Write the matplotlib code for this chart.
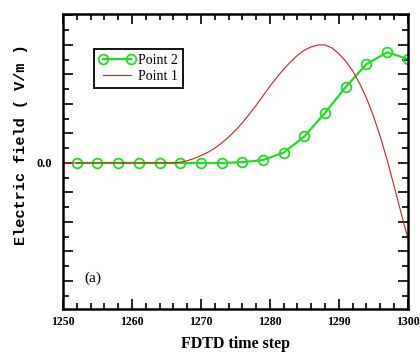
import matplotlib
matplotlib.use("Agg")
import matplotlib.pyplot as plt
from matplotlib.ticker import MultipleLocator, FixedLocator, FuncFormatter

# Point 1 (red): value at every time step 1250..1300
p1_steps = list(range(1250, 1301))
p1_vals = [0.0] * 17 + [
    0.005, 0.015, 0.03, 0.05, 0.072, 0.10, 0.135, 0.175, 0.22, 0.272,
    0.33, 0.39, 0.455, 0.52, 0.58, 0.635, 0.685, 0.73, 0.765, 0.787,
    0.80, 0.80, 0.78, 0.74, 0.69, 0.625, 0.54, 0.44, 0.32, 0.18,
    0.02, -0.155, -0.335, -0.51]

# Point 2 (green): values at the marked steps
p2_steps = list(range(1252, 1301, 3))
p2_vals = [0.0, 0.0, 0.0, 0.0, 0.0, 0.0, 0.0, 0.0, 0.005, 0.02,
           0.07, 0.18, 0.34, 0.515, 0.67, 0.75, 0.705]

x_ticks = [1250, 1260, 1270, 1280, 1290, 1300]
y_labelled = {0.0: "0.0"}

fig = plt.figure(figsize=(4.2, 3.55), dpi=100)
ax = fig.add_axes([0.15, 0.1296, 0.821, 0.8310])

ax.plot(p2_steps, p2_vals, color="#22dd22", lw=1.6, marker="o", ms=7,
        mfc="none", mec="#22dd22", mew=1.3, label="Point 2")
ax.plot(p1_steps, p1_vals, color="#cc2222", lw=0.8, label="Point 1")

ax.set_xlim(1250, 1300)
ax.set_ylim(-0.99, 1.01)

ax.xaxis.set_major_locator(FixedLocator(x_ticks))
ax.xaxis.set_minor_locator(MultipleLocator(2))
ax.yaxis.set_major_locator(MultipleLocator(0.2))
ax.yaxis.set_minor_locator(MultipleLocator(0.1))


def yfmt(v, pos):
    for k, lab in y_labelled.items():
        if abs(v - k) < 1e-6:
            return lab
    return ""


ax.yaxis.set_major_formatter(FuncFormatter(yfmt))

ax.tick_params(which="both", direction="in", top=True, right=True, width=1.2)
ax.tick_params(which="major", length=7)
ax.tick_params(which="minor", length=4)
for lab in ax.get_yticklabels():
    lab.set_fontfamily("Liberation Serif")
    lab.set_fontweight("bold")
    lab.set_fontsize(9)
ax.set_xticklabels([str(v) for v in x_ticks], fontfamily="Liberation Serif",
                   fontweight="bold", fontsize=8.5)
ax.tick_params(axis="x", pad=5)
ax.tick_params(axis="y", pad=8)

for s in ax.spines.values():
    s.set_linewidth(1.8)

ax.set_xlabel("FDTD time step", fontfamily="Liberation Serif",
              fontweight="bold", fontsize=11.5, labelpad=6)
ax.set_ylabel("Electric field ( V/m )", fontfamily="Liberation Mono",
              fontweight="bold", fontsize=11)
ax.yaxis.set_label_coords(-0.102, 0.556)

ax.text(1254.3, -0.78, "(a)", fontfamily="Liberation Serif", fontsize=11,
        ha="center", va="center")

leg = ax.legend(loc="upper left", bbox_to_anchor=(0.07, 0.905), numpoints=2,
                prop={"family": "Liberation Serif", "size": 10},
                fancybox=False, edgecolor="black", framealpha=1,
                handlelength=2.6, handletextpad=0.2, borderpad=0.35,
                labelspacing=0.25)
leg.get_frame().set_linewidth(1.3)

fig.savefig("out.png", dpi=100)
